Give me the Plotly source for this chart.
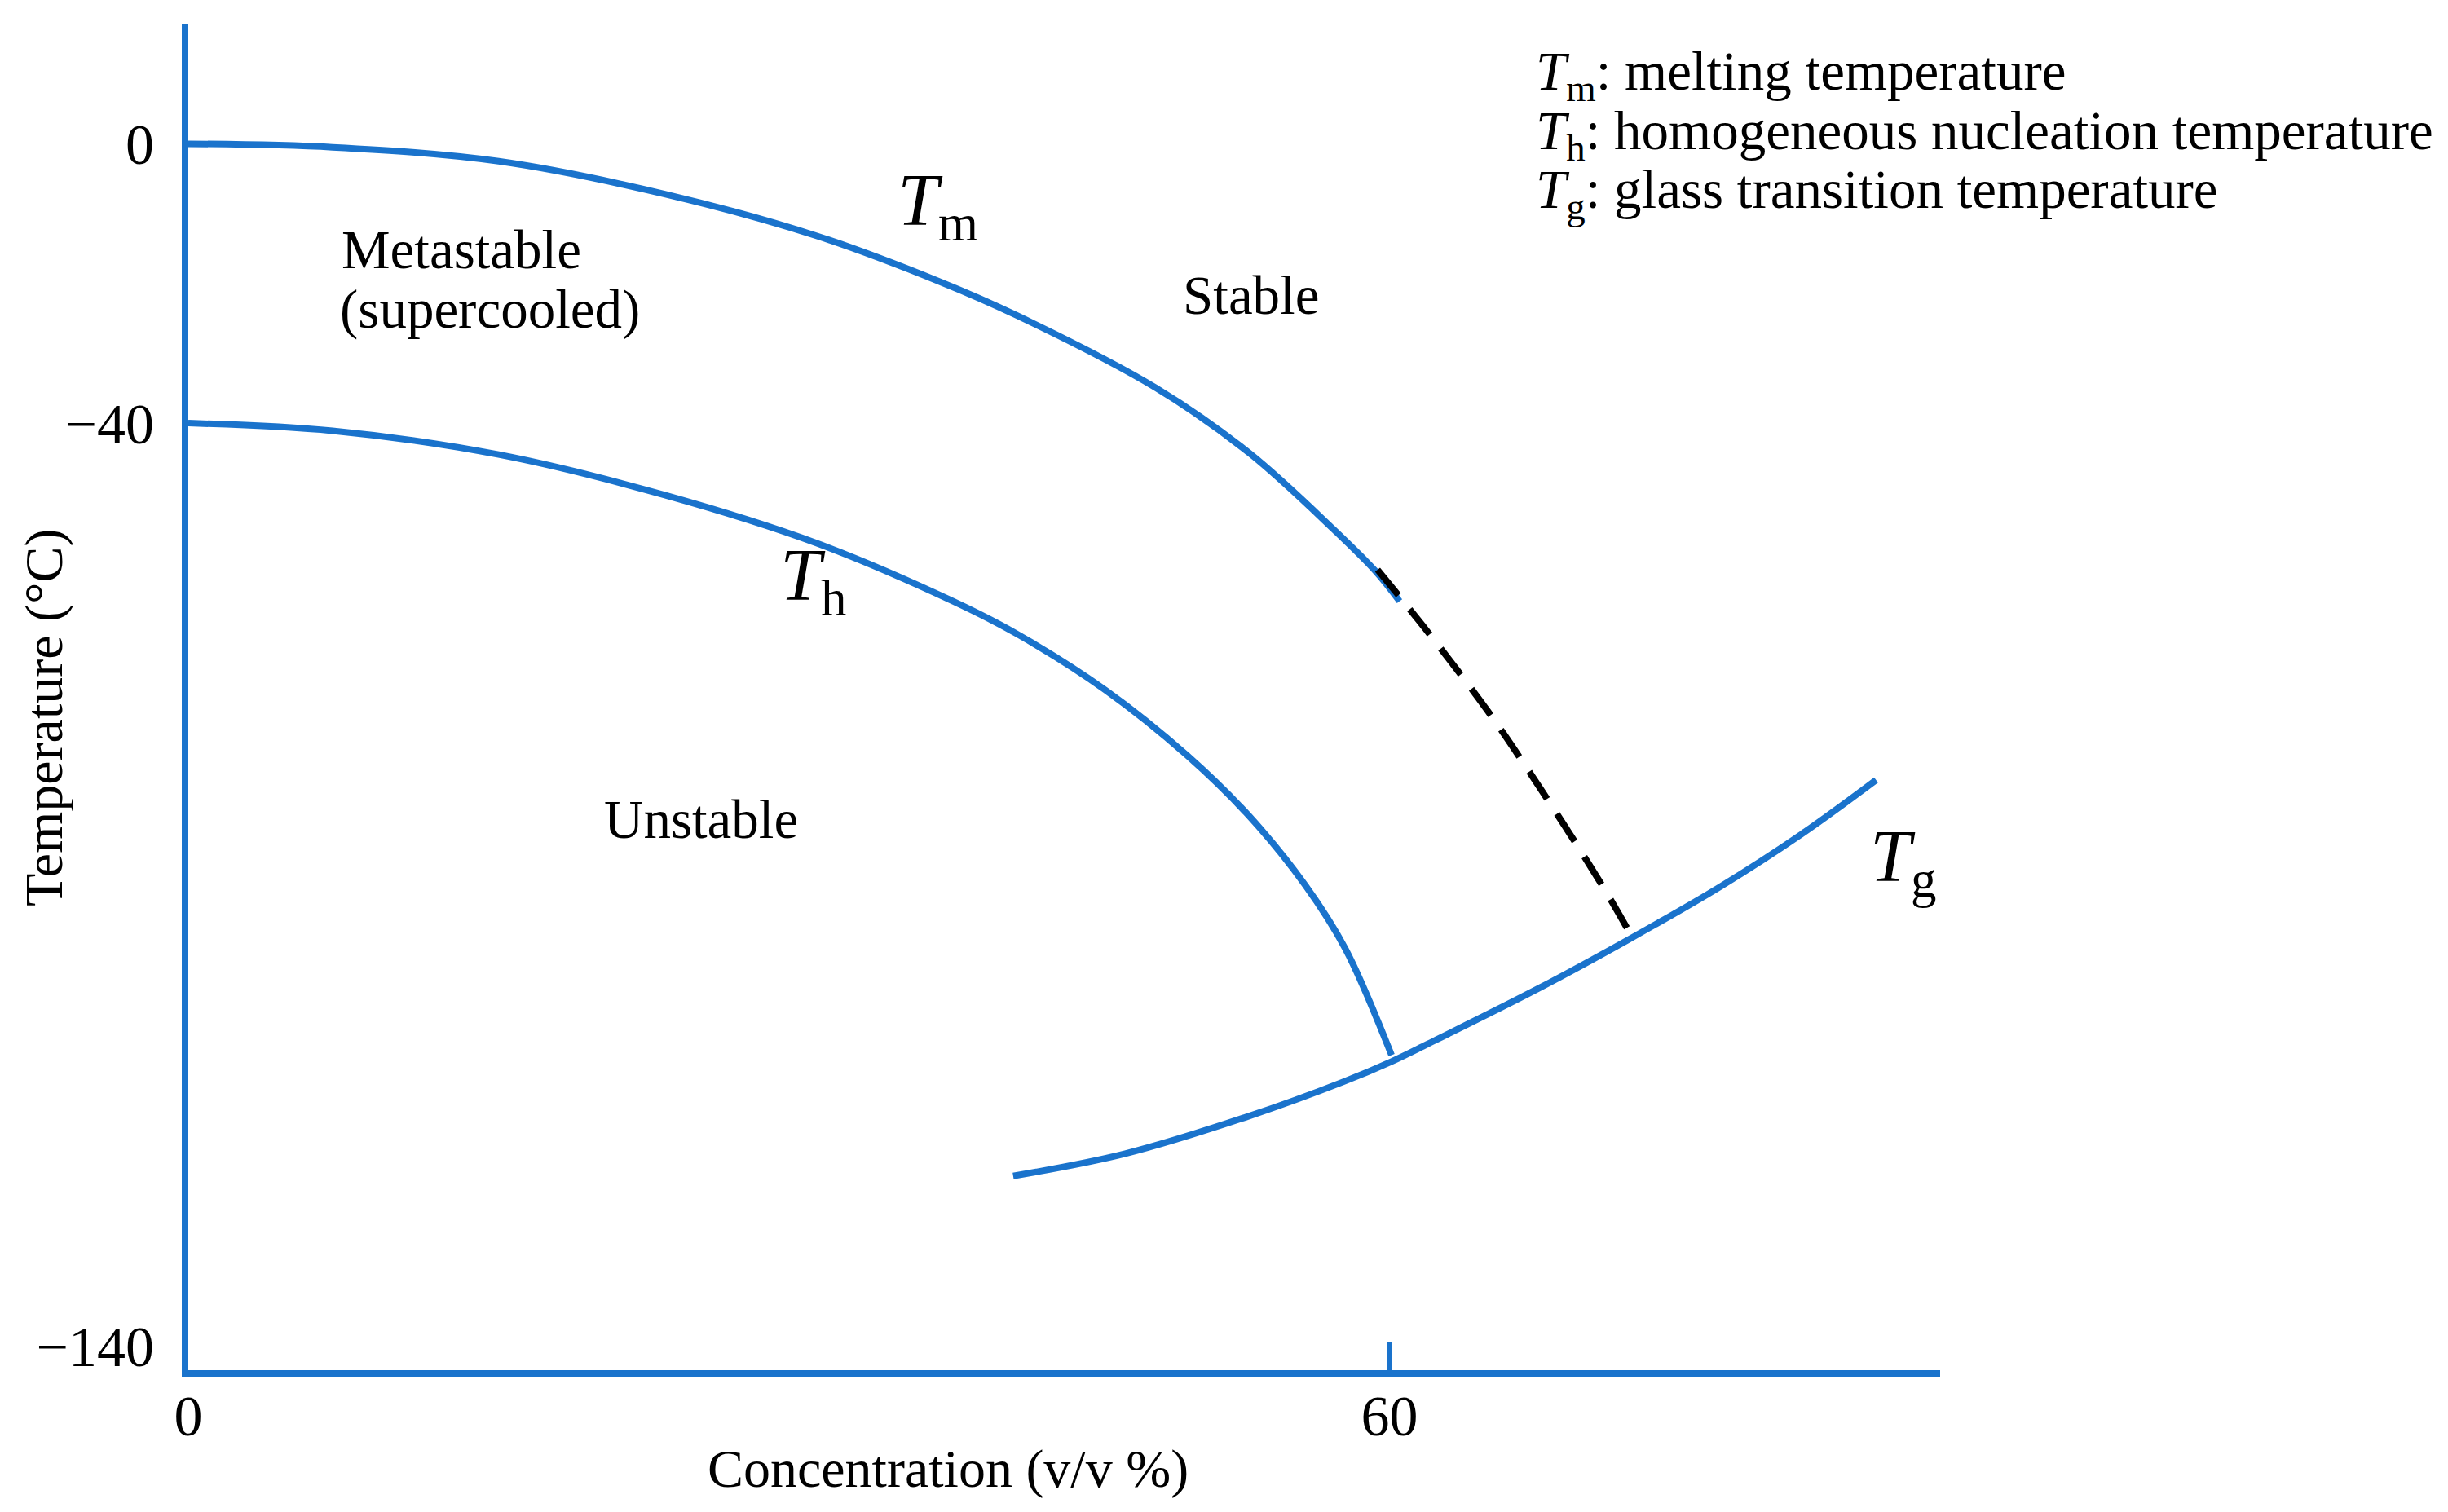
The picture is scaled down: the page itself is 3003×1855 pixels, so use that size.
import plotly.graph_objects as go

# ---------------- data (schematic state diagram) ----------------
# x: concentration (v/v %), y: temperature (schematic axis, deg C)
TM_X = [0, 7.2, 15.5, 23.8, 31.4, 37.5, 41.4, 48.3, 53.0, 57.2, 59.3, 60.5]
TM_Y = [0, -0.5, -2.5, -7.2, -13.2, -19.7, -24.6, -34.9, -44.3, -55.2, -61.2, -65.5]

TH_X = [0, 7.2, 15.5, 23.8, 31.4, 38.2, 41.4, 45.8, 49.9, 53.0, 55.8, 57.8, 60.1]
TH_Y = [-40.0, -41.1, -44.5, -50.3, -57.2, -65.5, -70.2, -78.2, -87.6, -96.3, -106.2, -115.3, -130.5]

TG_X = [41.2, 46.8, 53.0, 57.7, 60.1, 61.9, 67.4, 71.9, 76.5, 80.6, 84.3]
TG_Y = [-147.8, -144.6, -139.2, -134.3, -131.4, -128.9, -121.0, -114.0, -106.4, -98.8, -91.1]

EXT_X = [59.4, 61.8, 64.9, 67.8, 70.6, 71.9]
EXT_Y = [-61.0, -69.5, -81.2, -93.5, -106.1, -112.5]

X_TICK_VALS = [0, 60]
X_TICK_TEXT = ["0", "60"]
Y_TICK_VALS = [0, -40, -172.1]   # axis is schematic: the -140 label sits at the axis foot
Y_TICK_TEXT = ["0", "\u221240", "\u2212140"]

X_RANGE = [0, 87.5]
Y_RANGE = [-175.6, 17.2]

BLUE = "#1a73cc"
FONT = "Liberation Serif"

W, H = 3003, 1855
ML, MR, MT, MB = 223, 631, 21, 182
PW, PH = W - ML - MR, H - MT - MB
PAGE_OFF = 8  # default page margin of the html body


def px(xp):
    return (xp - PAGE_OFF - ML) / PW


def py(yp):
    return (H - MB - (yp - PAGE_OFF)) / PH


fig = go.Figure()
for xs, ys in ((TM_X, TM_Y), (TH_X, TH_Y), (TG_X, TG_Y)):
    fig.add_trace(go.Scatter(x=xs, y=ys, mode="lines",
                             line=dict(color=BLUE, width=8, shape="spline", smoothing=1.0),
                             hoverinfo="skip"))
fig.add_trace(go.Scatter(x=EXT_X, y=EXT_Y, mode="lines",
                         line=dict(color="black", width=8, dash="40px,22px",
                                   shape="spline", smoothing=1.0),
                         hoverinfo="skip"))

annotations = []


def txt(text, x, y, size, xanchor="left", yanchor="middle", angle=0):
    annotations.append(dict(text=text, x=px(x), y=py(y), xref="paper", yref="paper",
                            xanchor=xanchor, yanchor=yanchor, showarrow=False,
                            textangle=angle,
                            font=dict(family=FONT, size=size, color="black")))


# region labels
txt("Metastable", 417, 306, 67)
txt("(supercooled)", 415, 379, 67)
txt("Stable", 1534, 362, 67, xanchor="center")
txt("Unstable", 860, 1005, 67, xanchor="center")

# curve labels
txt("<i>T</i><sub>m</sub>", 1099, 253, 90)
txt("<i>T</i><sub>h</sub>", 955, 712, 90)
txt("<i>T</i><sub>g</sub>", 2292, 1057, 90)

# key
txt("<i>T</i><sub>m</sub>: melting temperature", 1882, 92, 67)
txt("<i>T</i><sub>h</sub>: homogeneous nucleation temperature", 1882, 165, 67)
txt("<i>T</i><sub>g</sub>: glass transition temperature", 1882, 237, 67)

# axis titles
txt("Concentration (v/v %)", 1163, 1802, 66, xanchor="center")
txt("Temperature (\u00b0C)", 54, 881, 66, xanchor="center", angle=-90)

fig.update_layout(
    width=W, height=H,
    margin=dict(l=ML, r=MR, t=MT, b=MB),
    paper_bgcolor="white", plot_bgcolor="white",
    showlegend=False,
    annotations=annotations,
    xaxis=dict(range=X_RANGE, showgrid=False, zeroline=False,
               showline=True, linecolor=BLUE, linewidth=8,
               tickmode="array", tickvals=X_TICK_VALS, ticktext=X_TICK_TEXT,
               ticks="inside", ticklen=35, tickwidth=6, tickcolor=BLUE,
               ticklabelstandoff=-12,
               tickfont=dict(family=FONT, size=70, color="black")),
    yaxis=dict(range=Y_RANGE, showgrid=False, zeroline=False,
               showline=True, linecolor=BLUE, linewidth=8,
               tickmode="array", tickvals=Y_TICK_VALS, ticktext=Y_TICK_TEXT,
               ticks="", ticklabelstandoff=20,
               tickfont=dict(family=FONT, size=70, color="black")),
)

fig.write_html("out.html")
